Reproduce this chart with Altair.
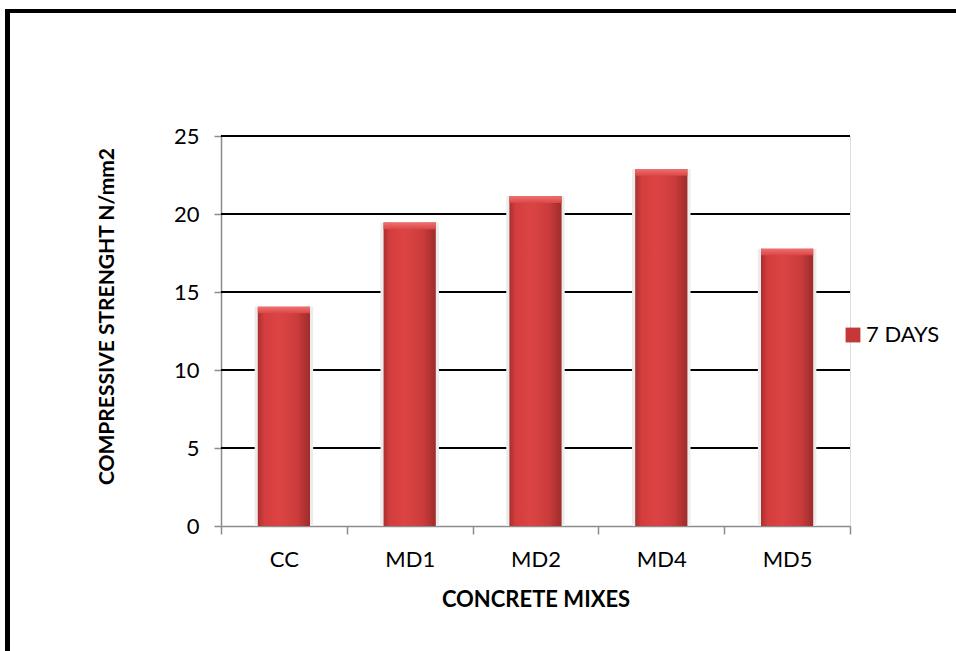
import altair as alt
import pandas as pd

mixes = ["CC", "MD1", "MD2", "MD4", "MD5"]
strength_7days = [14.05, 19.45, 21.13, 22.87, 17.78]
series_name = "7 DAYS"
grid_values = [5, 10, 15, 20, 25]

df = pd.DataFrame({"mix": mixes, "strength": strength_7days, "series": [series_name] * len(mixes)})
grid_df = pd.DataFrame({"g": grid_values})

W, H = 629, 390
FONT = "Lato"

x_enc = alt.X("mix:N", sort=mixes, title="CONCRETE MIXES",
              scale=alt.Scale(paddingInner=0, paddingOuter=0),
              axis=alt.Axis(labelAngle=0, tickBand="extent", domainColor="#8c8c8c",
                            domainWidth=1.5, tickColor="#8c8c8c", tickWidth=1.5, tickSize=8,
                            labelPadding=15, labelFontSize=22, labelFont=FONT, labelColor="black",
                            titleFont=FONT, titleFontSize=22, titleFontWeight="bold",
                            titleColor="black", titlePadding=19))
y_scale = alt.Scale(domain=[0, 25], nice=False, zero=True)

grid = alt.Chart(grid_df).mark_rule(color="black", strokeWidth=2).encode(
    y=alt.Y("g:Q", scale=y_scale)
)

shadow = alt.Chart(df).mark_bar(width=alt.RelativeBandSize(0.465), color="#ececec").encode(
    x=x_enc,
    y=alt.Y("strength:Q", scale=y_scale),
)

bars = alt.Chart(df).mark_bar(
    width=alt.RelativeBandSize(0.415),
    color=alt.Gradient(gradient="linear", x1=0, x2=1, y1=0, y2=0,
                       stops=[alt.GradientStop(color="#a83030", offset=0),
                              alt.GradientStop(color="#d43d3d", offset=0.12),
                              alt.GradientStop(color="#dc4444", offset=0.4),
                              alt.GradientStop(color="#cc3c3c", offset=0.75),
                              alt.GradientStop(color="#9e2c2c", offset=1)]),
).encode(
    x=x_enc,
    y=alt.Y("strength:Q", scale=y_scale, title="COMPRESSIVE STRENGHT N/mm2",
            axis=alt.Axis(values=[0, 5, 10, 15, 20, 25], grid=False, domainColor="#8c8c8c",
                          domainWidth=1.5, tickColor="#8c8c8c", tickWidth=1.5, tickSize=7,
                          labelPadding=15, labelFontSize=22, labelFont=FONT, labelColor="black",
                          titleFont=FONT, titleFontSize=21, titleFontWeight="bold",
                          titleColor="black", titlePadding=56, titleY=180,
                          titleAlign="center")),
)

caps = alt.Chart(df).transform_calculate(
    captop="datum.strength", capbot="datum.strength - 0.42"
).mark_bar(
    width=alt.RelativeBandSize(0.415),
    color=alt.Gradient(gradient="linear", x1=0, x2=0, y1=0, y2=1,
                       stops=[alt.GradientStop(color="#ee7070", offset=0),
                              alt.GradientStop(color="#dc4646", offset=1)]),
).encode(
    x=x_enc,
    y=alt.Y("captop:Q", scale=y_scale),
    y2="capbot:Q",
)

legend_df = pd.DataFrame({"series": [series_name]})
legend = alt.Chart(legend_df).mark_square(opacity=0, filled=True).encode(
    color=alt.Color("series:N", scale=alt.Scale(range=["#c43838"]),
                    legend=alt.Legend(title=None, orient="none", legendX=621, legendY=188,
                                      symbolType="square", symbolSize=220, symbolStrokeWidth=0,
                                      symbolOpacity=1, symbolFillColor="#c43838",
                                      labelFont=FONT, labelFontSize=22, labelColor="black",
                                      labelOffset=2))
)

one = pd.DataFrame({"a": [0]})
frame_top = alt.Chart(one).mark_rect(color="black").encode(
    x=alt.value(-216), x2=alt.value(740), y=alt.value(-127), y2=alt.value(-123)
)
frame_left = alt.Chart(one).mark_rect(color="black").encode(
    x=alt.value(-216), x2=alt.value(-211), y=alt.value(-127), y2=alt.value(520)
)

chart = alt.layer(frame_top, frame_left, grid, shadow, bars, caps, legend).properties(
    width=W, height=H,
    padding={"left": 221, "top": 136, "right": 106, "bottom": 125},
    autosize=alt.AutoSizeParams(type="none"),
).configure_view(stroke=None).configure(background="white")

chart.save("out.html", embed_options={"renderer": "svg", "actions": False})
